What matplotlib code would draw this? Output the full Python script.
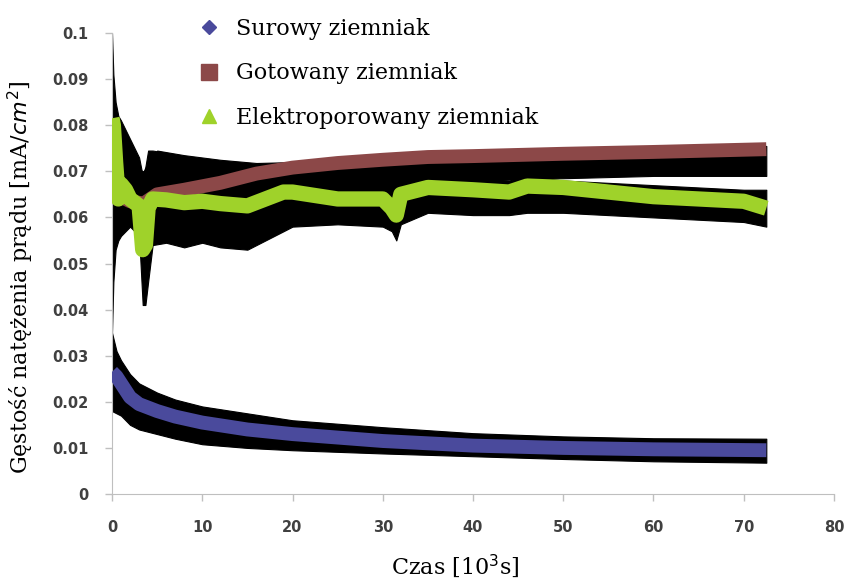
import numpy as np
import matplotlib.pyplot as plt
from matplotlib.lines import Line2D

# czas [10^3 s]
labels = ['Surowy ziemniak', 'Gotowany ziemniak', 'Elektroporowany ziemniak']

# Surowy ziemniak
x_sur = [0, 0.5, 1, 2, 3, 5, 7, 10, 15, 20, 30, 40, 50, 60, 72.5]
y_sur = [0.0265, 0.0255, 0.024, 0.021, 0.0195, 0.018, 0.0168, 0.0155, 0.014, 0.013, 0.0115, 0.0105, 0.0100, 0.0097, 0.0095]
lo_sur = [0.018, 0.0175, 0.017, 0.015, 0.014, 0.013, 0.012, 0.0108, 0.010, 0.0095, 0.0088, 0.0082, 0.0076, 0.0071, 0.0068]
hi_sur = [0.035, 0.031, 0.029, 0.026, 0.024, 0.022, 0.0205, 0.019, 0.0175, 0.016, 0.0145, 0.0132, 0.0125, 0.0121, 0.012]

# Gotowany ziemniak
x_got = [0, 0.3, 0.6, 1, 2, 3.5, 5, 8, 12, 16, 20, 25, 30, 35, 40, 50, 60, 72.5]
y_got = [0.0715, 0.069, 0.066, 0.0645, 0.0635, 0.063, 0.065, 0.066, 0.0675, 0.0695, 0.0708, 0.0718, 0.0725, 0.0731, 0.0733, 0.0738, 0.0742, 0.0748]
lo_got = [0.062, 0.062, 0.062, 0.062, 0.062, 0.062, 0.062, 0.0625, 0.063, 0.065, 0.066, 0.0665, 0.067, 0.0675, 0.068, 0.0685, 0.069, 0.069]
hi_got = [0.074, 0.073, 0.072, 0.072, 0.071, 0.070, 0.0745, 0.0735, 0.0725, 0.0718, 0.072, 0.073, 0.0735, 0.074, 0.074, 0.0745, 0.075, 0.0755]

# Elektroporowany ziemniak
x_ele = [0, 0.15, 0.4, 0.7, 1, 1.5, 2, 3, 3.4, 3.7, 4, 4.5, 6, 8, 10, 12, 15, 17, 19, 20, 25, 30, 31, 31.5, 32, 35, 40, 44, 46, 50, 55, 60, 65, 70, 72.5]
y_ele = [0.0815, 0.080, 0.072, 0.064, 0.0672, 0.066, 0.064, 0.0625, 0.053, 0.054, 0.062, 0.064, 0.0638, 0.0632, 0.0635, 0.063, 0.0625, 0.064, 0.0655, 0.0655, 0.064, 0.064, 0.062, 0.0605, 0.065, 0.0665, 0.066, 0.0655, 0.0668, 0.0665, 0.0655, 0.0645, 0.064, 0.0635, 0.062]
lo_ele = [0.035, 0.046, 0.053, 0.055, 0.056, 0.057, 0.058, 0.056, 0.041, 0.041, 0.046, 0.054, 0.0545, 0.0535, 0.0545, 0.0535, 0.053, 0.055, 0.057, 0.058, 0.0585, 0.058, 0.057, 0.055, 0.0585, 0.061, 0.0605, 0.0605, 0.061, 0.061, 0.0605, 0.060, 0.0595, 0.059, 0.058]
hi_ele = [0.1, 0.091, 0.085, 0.082, 0.081, 0.079, 0.077, 0.073, 0.069, 0.071, 0.0745, 0.0745, 0.074, 0.073, 0.0725, 0.072, 0.0712, 0.0708, 0.0705, 0.070, 0.069, 0.068, 0.068, 0.0675, 0.069, 0.069, 0.0685, 0.068, 0.069, 0.068, 0.0675, 0.067, 0.0665, 0.066, 0.066]

x_ticks = np.arange(0, 81, 10)
y_ticks = np.arange(0, 0.101, 0.01)

c_sur = '#4a4a9c'
c_got = '#8c4848'
c_ele = '#9fd22a'

fig = plt.figure(figsize=(8.46, 5.81), dpi=100)
ax = fig.add_axes([0.1324, 0.1497, 0.8534, 0.7935])

# error bars (black bands) first
for xs, lo, hi in [(x_sur, lo_sur, hi_sur), (x_got, lo_got, hi_got), (x_ele, lo_ele, hi_ele)]:
    ax.fill_between(xs, lo, hi, color='black', lw=0.8, zorder=2)

ax.plot(x_sur, y_sur, color=c_sur, lw=10, solid_capstyle='butt', zorder=3)
ax.plot(x_got, y_got, color=c_got, lw=10, solid_capstyle='butt', zorder=4)
ax.plot(x_ele, y_ele, color=c_ele, lw=11, solid_capstyle='butt', zorder=5)

ax.set_xlim(0, 80)
ax.set_ylim(0, 0.1)
ax.set_xticks(x_ticks)
ax.set_yticks(y_ticks)
ax.set_xticklabels([str(t) for t in x_ticks])
ax.set_yticklabels(['0'] + ['%g' % round(t, 2) for t in y_ticks[1:]])
for lab in ax.get_xticklabels() + ax.get_yticklabels():
    lab.set_fontweight('bold')
    lab.set_fontsize(10.5)
    lab.set_color('#404040')
ax.tick_params(direction='out', length=5, color='#bfbfbf', width=1)
ax.tick_params(axis='x', pad=14)
ax.tick_params(axis='y', pad=12)
for s in ['top', 'right']:
    ax.spines[s].set_visible(False)
for s in ['left', 'bottom']:
    ax.spines[s].set_color('#bfbfbf')

ax.set_xlabel('Czas [10$^3$s]', family='DejaVu Serif', fontsize=16)
ax.xaxis.set_label_coords(0.475, -0.127)
ax.set_ylabel('Gęstość natężenia prądu [mA/$cm^2$]', family='DejaVu Serif', fontsize=16)
ax.yaxis.set_label_coords(-0.105, 0.47)

handles = [Line2D([], [], ls='none', marker='D', ms=7, color=c_sur),
           Line2D([], [], ls='none', marker='s', ms=11, color=c_got),
           Line2D([], [], ls='none', marker='^', ms=10, color=c_ele)]
fig.legend(handles, labels, loc='upper left', bbox_to_anchor=(0.208, 1.003), frameon=False,
           prop={'family': 'DejaVu Serif', 'size': 16}, labelspacing=1.0, handletextpad=0.6,
           handlelength=1.2)

fig.savefig('out.png', dpi=100)
